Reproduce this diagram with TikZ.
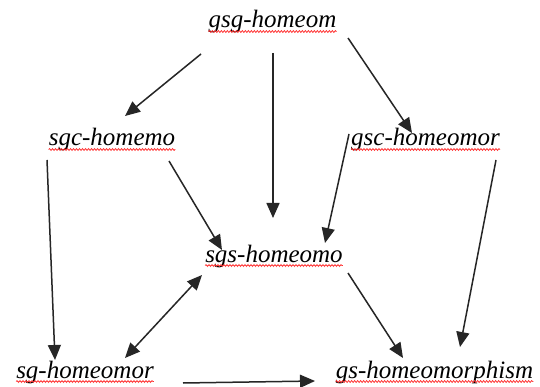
\documentclass[tikz,border=0pt]{standalone}
\usepackage{fontspec}
\setmainfont{Liberation Serif}
\usetikzlibrary{arrows.meta,decorations.pathmorphing}
\begin{document}
\begin{tikzpicture}[x=1pt,y=-1pt,
  lbl/.style={anchor=base,inner sep=0pt,font=\fontsize{25}{28}\selectfont\itshape},
  arr/.style={line width=1.5pt,draw=black!85,-{Triangle[length=15pt,width=13pt]}},
  darr/.style={line width=1.5pt,draw=black!85,{Triangle[length=15pt,width=13pt]}-{Triangle[length=15pt,width=13pt]}},
  wavy/.style={draw=red!80,line width=0.8pt,decorate,decoration={snake,amplitude=0.9pt,segment length=3pt}}]
\useasboundingbox (0,0) rectangle (540,387);
\fill[white] (0,0) rectangle (540,387);
% labels
\node[lbl] (gsg) at (272.5,28) {gsg-homeom};
\node[lbl] (sgc) at (112,146) {sgc-homemo};
\node[lbl] (gsc) at (425.5,146) {gsc-homeomor};
\node[lbl] (sgs) at (274,262) {sgs-homeomo};
\node[lbl] (sg) at (85,378) {sg-homeomor};
\node[lbl] (gs) at (434.5,378) {gs-homeomorphism};
% spell-check underlines
\foreach \n in {gsg,sgc,gsc,sgs,sg,gs}{
  \draw[wavy] ([yshift=-3.5pt]\n.base west) -- ([yshift=-3.5pt]\n.base east);
}
% arrow end points
\coordinate (a1s) at (201,54);  \coordinate (a1e) at (125,116);
\coordinate (a2s) at (273,53);  \coordinate (a2e) at (273,218);
\coordinate (a3s) at (348,38);  \coordinate (a3e) at (412,133);
\coordinate (a4s) at (47,160);  \coordinate (a4e) at (55,360);
\coordinate (a5s) at (169,161); \coordinate (a5e) at (222,250);
\coordinate (a6s) at (349,134); \coordinate (a6e) at (325,243);
\coordinate (a7s) at (496,160); \coordinate (a7e) at (460,347);
\coordinate (a8s) at (348,273); \coordinate (a8e) at (403,358);
\coordinate (a9s) at (125,358); \coordinate (a9e) at (202,275);
\coordinate (a10s) at (183,383); \coordinate (a10e) at (315,381);
\draw[arr] (a1s) -- (a1e);
\draw[arr] (a2s) -- (a2e);
\draw[arr] (a3s) -- (a3e);
\draw[arr] (a4s) -- (a4e);
\draw[arr] (a5s) -- (a5e);
\draw[arr] (a6s) -- (a6e);
\draw[arr] (a7s) -- (a7e);
\draw[arr] (a8s) -- (a8e);
\draw[darr] (a9s) -- (a9e);
\draw[arr] (a10s) -- (a10e);
\end{tikzpicture}
\end{document}
